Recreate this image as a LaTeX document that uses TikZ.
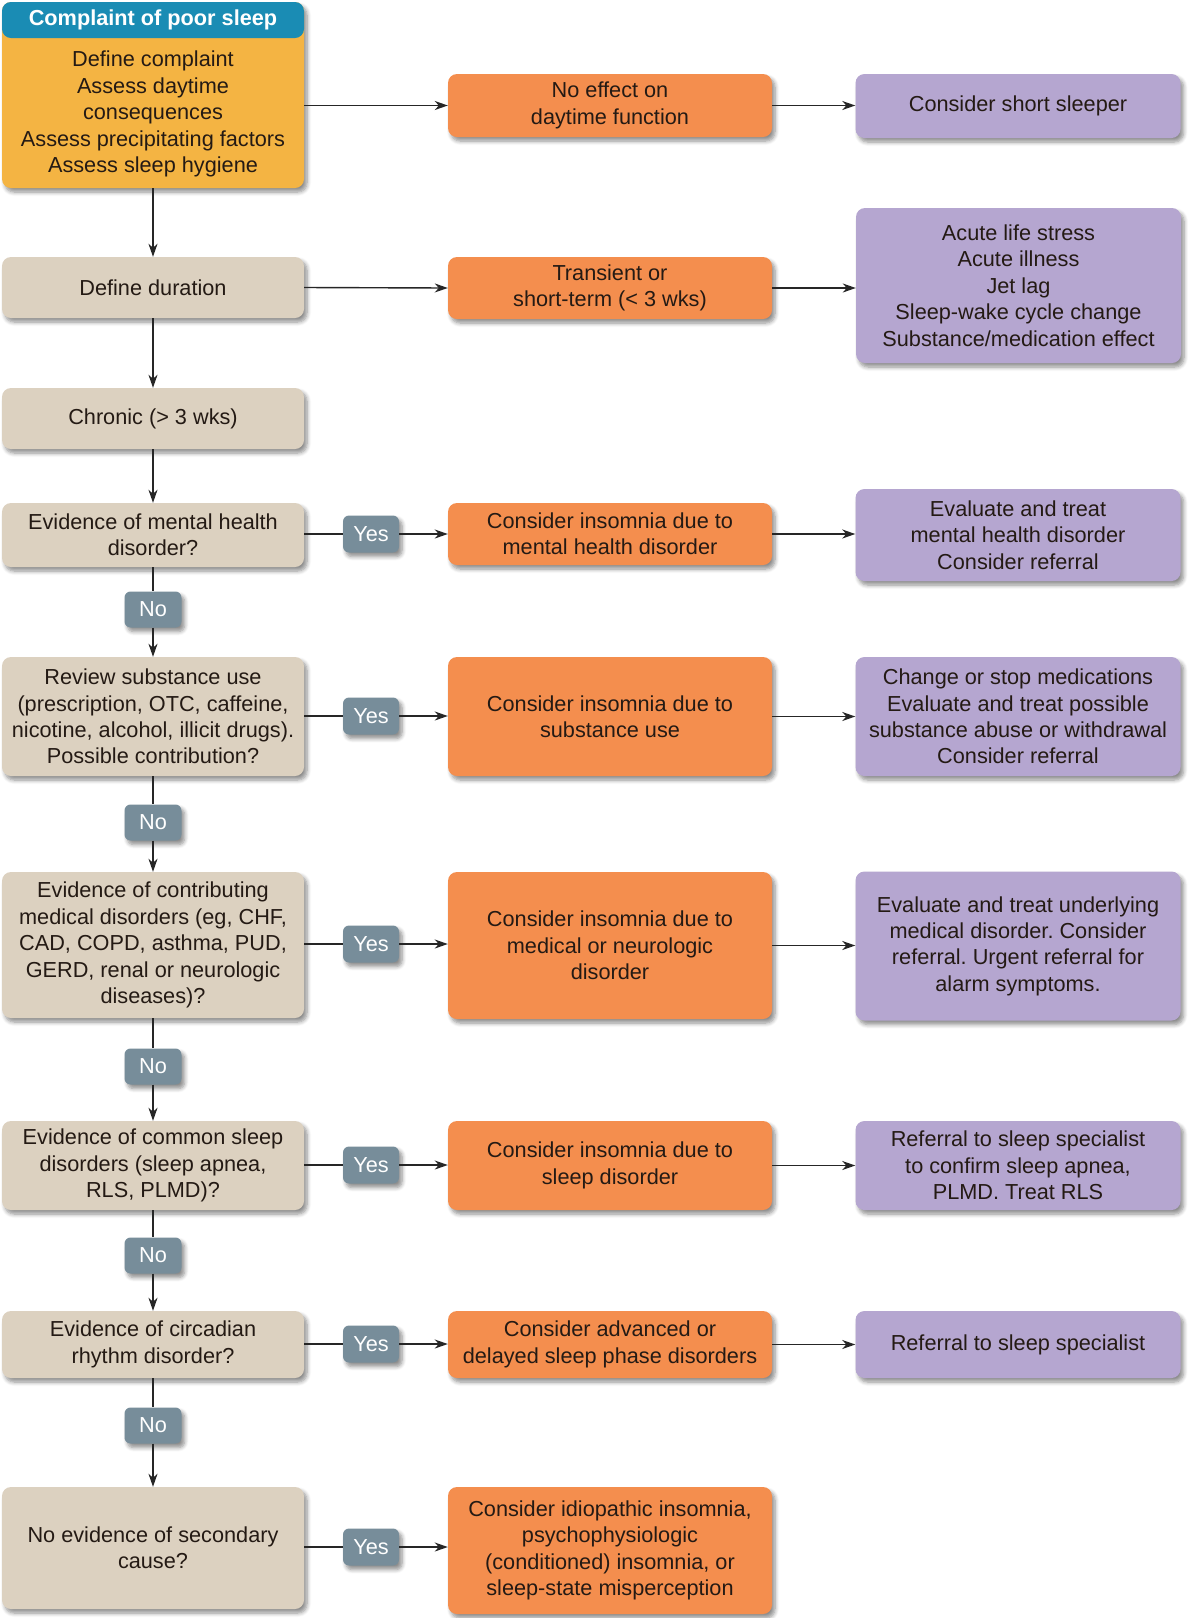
\documentclass[tikz,border=0pt]{standalone}
\usepackage{fontspec}
\setmainfont{Liberation Sans}
\usetikzlibrary{arrows.meta,shadows.blur}
\definecolor{tanc}{HTML}{DCD1C0}
\definecolor{orangec}{HTML}{F48E4E}
\definecolor{purplec}{HTML}{B5A6D0}
\definecolor{yellowc}{HTML}{F4B443}
\definecolor{tealc}{HTML}{1A8CB4}
\definecolor{grayc}{HTML}{778D9A}
\definecolor{txtc}{HTML}{241A14}
\definecolor{linec}{HTML}{262626}
\newcommand{\bodyfont}{\frenchspacing\fontsize{21.7}{26.4}\selectfont}
\tikzset{
  plainbox/.style={rounded corners=9pt, inner sep=0pt, align=center, font=\bodyfont, text=txtc},
  box/.style={plainbox,
    blur shadow={shadow xshift=3pt, shadow yshift=-4pt, shadow blur radius=4pt, shadow blur steps=6, shadow opacity=45}},
  tanbox/.style={box, fill=tanc, minimum width=302pt},
  orbox/.style={box, fill=orangec, minimum width=324pt},
  pubox/.style={box, fill=purplec, minimum width=325pt},
  yesno/.style={box, fill=grayc, text=white, rounded corners=6pt, minimum height=37pt},
  yesbox/.style={yesno, minimum width=56pt},
  nobox/.style={yesno, minimum width=57pt, minimum height=36pt},
  conn/.style={draw=linec, line width=1.4pt},
  arr/.style={conn, -{Stealth[length=13pt,width=9pt,inset=4pt]}},
}
\begin{document}
\begin{tikzpicture}[x=1pt,y=-1pt]
\useasboundingbox (0,0) rectangle (1188,1618);
% top box
\node[box, fill=yellowc, minimum width=302pt, minimum height=186pt] (top) at (153,95) {};
\node[plainbox, fill=tealc, text=white, minimum width=302pt, minimum height=36pt, font=\bodyfont\bfseries] (toph) at (153,20) {Complaint of poor sleep};
\node[align=center, font=\bodyfont, text=txtc, inner sep=0pt] (topbody) at (153,114) {Define complaint\\Assess daytime\\consequences\\Assess precipitating factors\\Assess sleep hygiene};
\node[orbox, minimum height=63pt] (noeff) at (610,105.5) {No effect on\\daytime function};
\node[pubox, minimum height=64pt] (short) at (1018,106) {Consider short sleeper};
% row 2
\node[tanbox, minimum height=61pt] (dd) at (153,287.5) {Define duration};
\node[orbox, minimum height=62pt] (trans) at (610,288) {Transient or\\short-term (< 3 wks)};
\node[pubox, minimum height=155pt] (acute) at (1018.5,285.5) {Acute life stress\\Acute illness\\Jet lag\\Sleep-wake cycle change\\Substance/medication effect};
% row 3
\node[tanbox, minimum height=61pt] (chron) at (153,418.5) {Chronic (> 3 wks)};
% row 4
\node[tanbox, minimum height=64pt] (ment) at (153,535) {Evidence of mental health\\disorder?};
\node[orbox, minimum height=62pt] (mentO) at (610,534) {Consider insomnia due to\\mental health disorder};
\node[pubox, minimum height=92pt] (mentP) at (1018,535) {Evaluate and treat\\mental health disorder\\Consider referral};
\node[yesbox] (yes1) at (371,534) {Yes};
\node[nobox] (no1) at (153,609.5) {No};
% row 5
\node[tanbox, minimum height=119pt] (subs) at (153,716.5) {Review substance use\\(prescription, OTC, caffeine,\\nicotine, alcohol, illicit drugs).\\Possible contribution?};
\node[orbox, minimum height=119pt] (subsO) at (610,716.5) {Consider insomnia due to\\substance use};
\node[pubox, minimum height=119pt] (subsP) at (1018,716.5) {Change or stop medications\\Evaluate and treat possible\\substance abuse or withdrawal\\Consider referral};
\node[yesbox] (yes2) at (371,716) {Yes};
\node[nobox] (no2) at (153,822.5) {No};
% row 6
\node[tanbox, minimum height=146pt] (med) at (153,945) {Evidence of contributing\\medical disorders (eg, CHF,\\CAD, COPD, asthma, PUD,\\GERD, renal or neurologic\\diseases)?};
\node[orbox, minimum height=147pt] (medO) at (610,945.5) {Consider insomnia due to\\medical or neurologic\\disorder};
\node[pubox, minimum height=149pt] (medP) at (1018,946) {Evaluate and treat underlying\\medical disorder. Consider\\referral. Urgent referral for\\alarm symptoms.};
\node[yesbox] (yes3) at (371,944) {Yes};
\node[nobox] (no3) at (153,1066.5) {No};
% row 7
\node[tanbox, minimum height=89pt] (sl) at (153,1165.5) {Evidence of common sleep\\disorders (sleep apnea,\\RLS, PLMD)?};
\node[orbox, minimum height=89pt] (slO) at (610,1165.5) {Consider insomnia due to\\sleep disorder};
\node[pubox, minimum height=89pt] (slP) at (1018,1165.5) {Referral to sleep specialist\\to confirm sleep apnea,\\PLMD. Treat RLS};
\node[yesbox] (yes4) at (371,1165) {Yes};
\node[nobox] (no4) at (153,1255.5) {No};
% row 8
\node[tanbox, minimum height=67pt] (circ) at (153,1344.5) {Evidence of circadian\\rhythm disorder?};
\node[orbox, minimum height=67pt] (circO) at (610,1344.5) {Consider advanced or\\delayed sleep phase disorders};
\node[pubox, minimum height=67pt] (circP) at (1018,1344.5) {Referral to sleep specialist};
\node[yesbox] (yes5) at (371,1344) {Yes};
\node[nobox] (no5) at (153,1425.5) {No};
% row 9
\node[tanbox, minimum height=122pt] (none) at (153,1548) {No evidence of secondary\\cause?};
\node[orbox, minimum height=127pt] (noneO) at (610,1550.5) {Consider idiopathic insomnia,\\psychophysiologic\\(conditioned) insomnia, or\\sleep-state misperception};
\node[yesbox] (yes6) at (371,1547) {Yes};
% connectors
\draw[arr] (noeff.west -| top.east) -- (noeff.west);
\draw[arr] (noeff.east) -- (noeff.east -| short.west);
\draw[arr] (top.south) -- (dd.north);
\draw[arr] (dd.east) -- (trans.west);
\draw[arr] (trans.east) -- (trans.east -| acute.west);
\draw[arr] (dd.south) -- (chron.north);
\draw[arr] (chron.south) -- (ment.north);
\foreach \a/\y/\o/\p in {ment/yes1/mentO/mentP, subs/yes2/subsO/subsP, med/yes3/medO/medP, sl/yes4/slO/slP, circ/yes5/circO/circP}{
  \draw[conn] (\y.west -| \a.east) -- (\y.west);
  \draw[arr] (\y.east) -- (\y.east -| \o.west);
  \draw[arr] (\o.east) -- (\o.east -| \p.west);
}
\draw[conn] (yes6.west -| none.east) -- (yes6.west);
\draw[arr] (yes6.east) -- (yes6.east -| noneO.west);
\foreach \a/\n/\b in {ment/no1/subs, subs/no2/med, med/no3/sl, sl/no4/circ, circ/no5/none}{
  \draw[conn] (\a.south) -- (\n.north);
  \draw[arr] (\n.south) -- (\b.north);
}
\end{tikzpicture}
\end{document}
